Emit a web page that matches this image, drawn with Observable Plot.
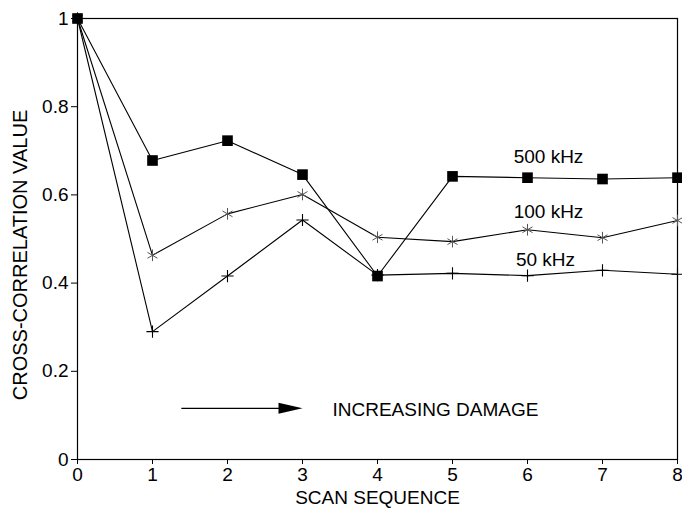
<!DOCTYPE html>
<html>
<head>
<meta charset="utf-8">
<script src="https://cdn.jsdelivr.net/npm/d3@7"></script>
<script src="https://cdn.jsdelivr.net/npm/@observablehq/plot@0.6"></script>
<style>
  html, body { margin: 0; padding: 0; background: #fff; }
</style>
</head>
<body>
<div id="chart"></div>
<script>
// ---- data ----
const scans = [0, 1, 2, 3, 4, 5, 6, 7, 8];
const khz500 = [1, 0.678, 0.723, 0.646, 0.416, 0.642, 0.639, 0.636, 0.639];
const khz100 = [1, 0.463, 0.557, 0.601, 0.504, 0.494, 0.521, 0.503, 0.542];
const khz50  = [1, 0.290, 0.416, 0.543, 0.418, 0.422, 0.417, 0.429, 0.420];
const seriesNames = ["500 kHz", "100 kHz", "50 kHz"];
const labelX = [6.28, 6.28, 6.24];
const labelY = [0.687, 0.562, 0.453];
const xTicks = [0, 1, 2, 3, 4, 5, 6, 7, 8];
const yTicks = [0, 0.2, 0.4, 0.6, 0.8, 1];
const arrowX = [1.39, 2.72];
const arrowY = 0.116;
const arrowTipX = 3.0;
const annotation = "INCREASING DAMAGE";
const xTitle = "SCAN SEQUENCE";
const yTitle = "CROSS-CORRELATION VALUE";

const rows = (vals) => scans.map((s, i) => ({x: s, y: vals[i]}));
const d500 = rows(khz500), d100 = rows(khz100), d50 = rows(khz50);
const labels = seriesNames.map((n, i) => ({n, x: labelX[i], y: labelY[i]}));

const arrowHead = {
  draw(ctx) {
    ctx.moveTo(-24, -5.5);
    ctx.lineTo(0, 0);
    ctx.lineTo(-24, 5.5);
    ctx.closePath();
  }
};

const font = "'Liberation Sans', Arial, Helvetica, sans-serif";

const plot = Plot.plot({
  width: 682,
  height: 509,
  marginLeft: 77,
  marginRight: 5,
  marginTop: 18,
  marginBottom: 50,
  style: {fontFamily: font, fontSize: "19px", background: "#fff", color: "#000"},
  x: {domain: [0, 8]},
  y: {domain: [0, 1]},
  marks: [
    Plot.frame({stroke: "#000", strokeWidth: 1.2}),
    Plot.axisY({ticks: yTicks, tickSize: 6, tickPadding: 3, tickFormat: d => String(d), label: null, fontSize: 19}),
    Plot.axisX({ticks: xTicks, tickSize: 5, tickPadding: 3, tickFormat: d => String(d), label: null, fontSize: 19}),
    Plot.line(d500, {x: "x", y: "y", stroke: "#000", strokeWidth: 1.1}),
    Plot.line(d100, {x: "x", y: "y", stroke: "#000", strokeWidth: 1.1}),
    Plot.line(d50, {x: "x", y: "y", stroke: "#000", strokeWidth: 1.1}),
    Plot.dot(d100, {x: "x", y: "y", symbol: "asterisk", r: 5.5, stroke: "#555", strokeWidth: 1}),
    Plot.dot(d50, {x: "x", y: "y", symbol: "plus", r: 4, stroke: "#000", strokeWidth: 1.1}),
    Plot.dot(d500, {x: "x", y: "y", symbol: "square", r: 6, fill: "#000", stroke: "none"}),
    Plot.text(labels, {x: "x", y: "y", text: "n", fontSize: 19, fill: "#000", textAnchor: "middle"}),
    Plot.line(arrowX.map(x => ({x, y: arrowY})), {x: "x", y: "y", stroke: "#000", strokeWidth: 1.1}),
    Plot.dot([{x: arrowTipX, y: arrowY}], {x: "x", y: "y", symbol: arrowHead, fill: "#000", stroke: "none"}),
    Plot.text([{x: 3.4, y: 0.112, t: annotation}], {x: "x", y: "y", text: "t", textAnchor: "start", fontSize: 19, fill: "#000"}),
    Plot.text([xTitle], {frameAnchor: "bottom", dy: 38, lineAnchor: "middle", textAnchor: "middle", fontSize: 19, fill: "#000"}),
    Plot.text([yTitle], {frameAnchor: "left", rotate: -90, dx: -57, dy: 16, lineAnchor: "middle", textAnchor: "middle", fontSize: 20, fill: "#000"})
  ]
});
document.getElementById("chart").appendChild(plot);
</script>
</body>
</html>
